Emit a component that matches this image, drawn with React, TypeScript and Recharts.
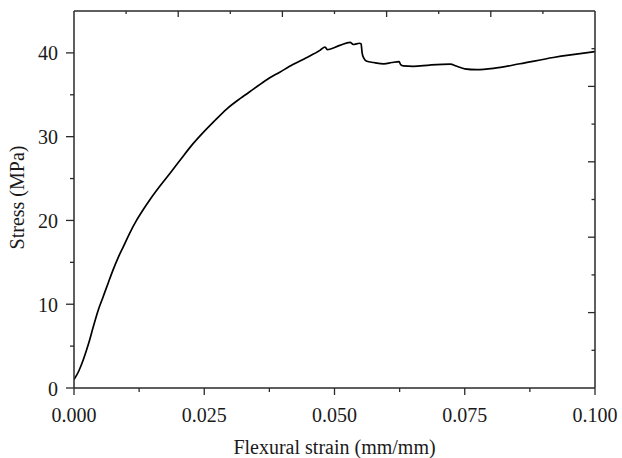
import { LineChart, Line, XAxis, YAxis, Label } from 'recharts';

const strain = [
    0, 0.0009, 0.0018, 0.0028, 0.0037, 0.0046, 0.0056, 0.0066, 0.0075, 0.0085,
    0.0095, 0.0107, 0.012, 0.0133, 0.0146, 0.0165, 0.0184, 0.0205, 0.0225, 0.0245,
    0.027, 0.0293, 0.032, 0.0345, 0.037, 0.0395, 0.042, 0.0445, 0.0472, 0.0482,
    0.0486, 0.051, 0.053, 0.0536, 0.0548, 0.0551, 0.0553, 0.0556, 0.0562, 0.0575,
    0.0595, 0.061, 0.0624, 0.0627, 0.0632, 0.0651, 0.0683, 0.0722, 0.0735, 0.075,
    0.0773, 0.0805, 0.0856, 0.092, 0.1,
];

const stress = [
    1.0, 2.0, 3.4, 5.3, 7.3, 9.2, 10.9, 12.6, 14.1, 15.6,
    16.9, 18.5, 20.0, 21.3, 22.5, 24.1, 25.6, 27.3, 28.9, 30.3,
    31.9, 33.3, 34.6, 35.7, 36.8, 37.7, 38.6, 39.4, 40.3, 40.7,
    40.4, 40.9, 41.25, 41.0, 41.15, 41.1, 40.0, 39.4, 39.0, 38.85,
    38.7, 38.85, 38.95, 38.6, 38.45, 38.4, 38.55, 38.65, 38.4, 38.1,
    38.0, 38.15, 38.7, 39.45, 40.15,
];

const xMajorTicks = [0, 0.025, 0.05, 0.075, 0.1];
const xMinorTicks = [0.0125, 0.0375, 0.0625, 0.0875];
const topTicks = [0.01, 0.02, 0.03, 0.04, 0.05, 0.06, 0.07, 0.08, 0.09];
const yMajorTicks = [0, 10, 20, 30, 40];
const yMinorTicks = [5, 15, 25, 35];
const rightTicks = [4.5, 9, 13.5, 18, 22.5, 27, 31.5, 36, 40.5];

const data = strain.map((s, i) => ({ strain: s, stress: stress[i] }));

const FONT = "'Liberation Serif', 'Times New Roman', serif";
const AXIS = '#2a2a2a';
const TEXT = '#1a1a1a';

const isMultiple = (v: number, step: number) => Math.abs(v / step - Math.round(v / step)) < 1e-6;

const BottomTick = ({ x, y, payload }: any) => {
    const major = xMajorTicks.some((t) => Math.abs(t - payload.value) < 1e-9);
    return (
        <g>
            <line x1={x} x2={x} y1={y} y2={y + (major ? 7 : 4)} stroke={AXIS} strokeWidth={1.3} />
            {major && (
                <text x={x} y={y + 34} textAnchor="middle" fontFamily={FONT} fontSize={20} fill={TEXT}>
                    {payload.value.toFixed(3)}
                </text>
            )}
        </g>
    );
};

const LeftTick = ({ x, y, payload }: any) => {
    const major = yMajorTicks.includes(payload.value);
    return (
        <g>
            <line x1={x} x2={x - (major ? 8 : 4)} y1={y} y2={y} stroke={AXIS} strokeWidth={1.3} />
            {major && (
                <text x={x - 16} y={y + 7.5} textAnchor="end" fontFamily={FONT} fontSize={20} fill={TEXT}>
                    {payload.value}
                </text>
            )}
        </g>
    );
};

const TopTick = ({ x, y, payload }: any) => {
    const major = isMultiple(payload.value, 0.02);
    return <line x1={x} x2={x} y1={y} y2={y + (major ? 6 : 3)} stroke={AXIS} strokeWidth={1.3} />;
};

const RightTick = ({ x, y, payload }: any) => {
    const major = isMultiple(payload.value, 9);
    return <line x1={x} x2={x - (major ? 7 : 3.5)} y1={y} y2={y} stroke={AXIS} strokeWidth={1.3} />;
};

const XTitle = ({ viewBox }: any) => (
    <text
        x={viewBox.x + viewBox.width / 2}
        y={viewBox.y + 66}
        textAnchor="middle"
        fontFamily={FONT}
        fontSize={20}
        fill={TEXT}
    >
        Flexural strain (mm/mm)
    </text>
);

const YTitle = ({ viewBox }: any) => {
    const cx = viewBox.x + 24;
    const cy = viewBox.y + viewBox.height / 2 - 2;
    return (
        <text
            x={cx}
            y={cy}
            transform={`rotate(-90 ${cx} ${cy})`}
            textAnchor="middle"
            fontFamily={FONT}
            fontSize={20}
            fill={TEXT}
        >
            Stress (MPa)
        </text>
    );
};

export default function App() {
    return (
        <div style={{ position: 'absolute', left: 0, top: 0, width: 622, height: 458, background: '#fff' }}>
            <LineChart width={622} height={458} data={data} margin={{ top: 10, right: 26, bottom: 0, left: 0 }}>
                <XAxis
                    xAxisId="bottom"
                    dataKey="strain"
                    type="number"
                    domain={[0, 0.1]}
                    ticks={[...xMajorTicks, ...xMinorTicks].sort((a, b) => a - b)}
                    interval={0}
                    height={70}
                    tickSize={0}
                    tickMargin={0}
                    tickLine={false}
                    tick={<BottomTick />}
                    axisLine={{ stroke: AXIS, strokeWidth: 1.5 }}
                    allowDataOverflow
                >
                    <Label content={<XTitle />} />
                </XAxis>
                <XAxis
                    xAxisId="top"
                    orientation="top"
                    dataKey="strain"
                    type="number"
                    domain={[0, 0.1]}
                    ticks={topTicks}
                    interval={0}
                    height={1}
                    tickSize={0}
                    tickMargin={0}
                    tickLine={false}
                    tick={<TopTick />}
                    axisLine={{ stroke: AXIS, strokeWidth: 1.5 }}
                    allowDataOverflow
                />
                <YAxis
                    yAxisId="left"
                    type="number"
                    domain={[0, 45]}
                    ticks={[...yMajorTicks, ...yMinorTicks].sort((a, b) => a - b)}
                    interval={0}
                    width={74}
                    tickSize={0}
                    tickMargin={0}
                    tickLine={false}
                    tick={<LeftTick />}
                    axisLine={{ stroke: AXIS, strokeWidth: 1.5 }}
                    allowDataOverflow
                >
                    <Label content={<YTitle />} />
                </YAxis>
                <YAxis
                    yAxisId="right"
                    orientation="right"
                    type="number"
                    domain={[0, 45]}
                    ticks={rightTicks}
                    interval={0}
                    width={1}
                    tickSize={0}
                    tickMargin={0}
                    tickLine={false}
                    tick={<RightTick />}
                    axisLine={{ stroke: AXIS, strokeWidth: 1.5 }}
                    allowDataOverflow
                />
                <Line
                    xAxisId="bottom"
                    yAxisId="left"
                    type="monotoneX"
                    dataKey="stress"
                    stroke="#000"
                    strokeWidth={1.7}
                    dot={false}
                    activeDot={false}
                    isAnimationActive={false}
                />
                <Line
                    xAxisId="top"
                    yAxisId="right"
                    type="linear"
                    dataKey="stress"
                    stroke="none"
                    dot={false}
                    activeDot={false}
                    legendType="none"
                    isAnimationActive={false}
                />
            </LineChart>
        </div>
    );
}
